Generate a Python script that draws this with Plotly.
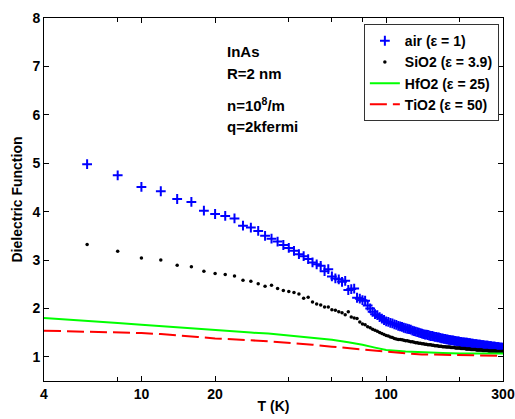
import math
import plotly.graph_objects as go

# ---- data ----
T_pts = list(range(6, 301, 2))

air_vals = [
    4.98, 4.75, 4.51, 4.42, 4.26, 4.20, 4.02, 3.95, 3.91, 3.86,
    3.71, 3.67, 3.60, 3.50, 3.44, 3.38, 3.31, 3.25, 3.19, 3.12,
    3.08, 3.02, 2.95, 2.91, 2.88, 2.77, 2.81, 2.66, 2.62, 2.60,
    2.55, 2.57, 2.38, 2.40, 2.41, 2.22, 2.20, 2.17, 2.16, 2.06,
    2.00, 1.93, 1.88, 1.86, 1.82, 1.79, 1.76, 1.73,
    1.72, 1.70, 1.69, 1.67, 1.66, 1.64, 1.63, 1.62, 1.60, 1.59,
    1.58, 1.57, 1.56, 1.54, 1.53, 1.52, 1.51, 1.50, 1.49, 1.48,
    1.47, 1.46, 1.46, 1.45, 1.44, 1.43, 1.43, 1.42, 1.41, 1.41,
    1.40, 1.40, 1.39, 1.38, 1.38, 1.37, 1.37, 1.36, 1.36, 1.35,
    1.35, 1.34, 1.34, 1.34, 1.33, 1.33, 1.32, 1.32, 1.32, 1.31,
    1.31, 1.30, 1.30, 1.30, 1.29, 1.29, 1.29, 1.28, 1.28, 1.28,
    1.27, 1.27, 1.27, 1.26, 1.26, 1.26, 1.26, 1.25, 1.25, 1.25,
    1.25, 1.24, 1.24, 1.24, 1.24, 1.23, 1.23, 1.23, 1.23, 1.23,
    1.22, 1.22, 1.22, 1.22, 1.21, 1.21, 1.21, 1.21, 1.21, 1.20,
    1.20, 1.20, 1.20, 1.20, 1.19, 1.19, 1.19, 1.19, 1.19, 1.18,
]

sio2_vals = [
    3.32, 3.18, 3.04, 3.00, 2.89, 2.86, 2.77, 2.72, 2.70, 2.67,
    2.58, 2.56, 2.51, 2.46, 2.48, 2.41, 2.37, 2.35, 2.33, 2.30,
    2.21, 2.23, 2.13, 2.09, 2.07, 2.03, 2.03, 1.97, 1.96, 1.93,
    1.91, 1.87, 1.93, 1.82, 1.80, 1.79, 1.72, 1.68, 1.66, 1.62,
    1.60, 1.57, 1.55, 1.53, 1.50, 1.48, 1.46, 1.44,
    1.43, 1.41, 1.40, 1.38, 1.37, 1.36, 1.36, 1.35, 1.34, 1.33,
    1.33, 1.32, 1.31, 1.31, 1.30, 1.29, 1.29, 1.28, 1.28, 1.27,
    1.27, 1.26, 1.26, 1.25, 1.25, 1.25, 1.24, 1.24, 1.23, 1.23,
    1.23, 1.22, 1.22, 1.22, 1.21, 1.21, 1.21, 1.20, 1.20, 1.20,
    1.20, 1.19, 1.19, 1.19, 1.19, 1.18, 1.18, 1.18, 1.18, 1.18,
    1.17, 1.17, 1.17, 1.17, 1.17, 1.16, 1.16, 1.16, 1.16, 1.16,
    1.15, 1.15, 1.15, 1.15, 1.15, 1.15, 1.14, 1.14, 1.14, 1.14,
    1.14, 1.14, 1.14, 1.13, 1.13, 1.13, 1.13, 1.13, 1.13, 1.13,
    1.12, 1.12, 1.12, 1.12, 1.12, 1.12, 1.12, 1.12, 1.12, 1.12,
    1.11, 1.11, 1.11, 1.11, 1.11, 1.11, 1.11, 1.11, 1.11, 1.11,
]

T_line = [4, 5, 6, 7, 8, 10, 12, 14, 17, 20, 24, 28, 33, 40, 45, 50,
          60, 70, 80, 90, 100, 120, 140, 170, 200, 250, 300]
hfo2_vals = [1.80, 1.77, 1.75, 1.72, 1.70, 1.66, 1.63, 1.60, 1.57, 1.54,
             1.52, 1.50, 1.48, 1.44, 1.42, 1.40, 1.35, 1.30, 1.25, 1.19,
             1.14, 1.11, 1.09, 1.08, 1.07, 1.07, 1.07]
tio2_vals = [1.54, 1.53, 1.51, 1.50, 1.50, 1.49, 1.47, 1.45, 1.41, 1.38,
             1.35, 1.34, 1.32, 1.29, 1.27, 1.25, 1.21, 1.18, 1.14, 1.12,
             1.10, 1.07, 1.05, 1.04, 1.04, 1.03, 1.02]

x_tickvals = [4, 10, 20, 100, 300]
x_ticktext = ["4", "10", "20", "100", "300"]
x_minor_vals = [8, 40, 60, 80, 200]
y_tickvals = [1, 2, 3, 4, 5, 6, 7, 8]

FONT = "Liberation Sans, Arial, sans-serif"

fig = go.Figure()
fig.add_trace(go.Scatter(
    x=T_pts, y=air_vals, mode="markers", name="air (ε = 1)",
    marker=dict(symbol="cross-thin", size=7, color="#0000ff",
                line=dict(color="#0000ff", width=2)),
))
fig.add_trace(go.Scatter(
    x=T_pts, y=sio2_vals, mode="markers", name="SiO2 (ε = 3.9)",
    marker=dict(symbol="circle", size=3.5, color="black"),
))
fig.add_trace(go.Scatter(
    x=T_line, y=hfo2_vals, mode="lines", name="HfO2 (ε = 25)",
    line=dict(color="#00ff00", width=2),
))
fig.add_trace(go.Scatter(
    x=T_line, y=tio2_vals, mode="lines", name="TiO2 (ε = 50)",
    line=dict(color="#ff0000", width=2, dash="17px,6px"),
))

notes = [("InAs", 0.909), ("R=2 nm", 0.848),
         ("n=10<sup>8</sup>/m", 0.763), ("q=2kfermi", 0.700)]
for txt, yy in notes:
    fig.add_annotation(text="<b>%s</b>" % txt, x=0.394, y=yy,
                       xref="paper", yref="paper", xanchor="left",
                       yanchor="middle", showarrow=False,
                       font=dict(family=FONT, size=15, color="black"))

fig.update_layout(
    width=515, height=419,
    margin=dict(l=44, r=12, t=18, b=38),
    paper_bgcolor="white", plot_bgcolor="white",
    font=dict(family=FONT, size=14, color="black"),
    showlegend=True,
    legend=dict(x=0.991, y=0.983, xanchor="right", yanchor="top",
                bgcolor="white", bordercolor="#333333", borderwidth=1,
                font=dict(family=FONT, size=14, color="black",
                          weight="bold"),
                tracegroupgap=0, itemwidth=30),
)
fig.update_xaxes(
    type="log", range=[math.log10(4), math.log10(300)],
    tickmode="array", tickvals=x_tickvals, ticktext=x_ticktext,
    ticks="inside", ticklen=5, tickcolor="black", tickwidth=1,
    minor=dict(tickmode="array", tickvals=x_minor_vals, ticks="inside",
               ticklen=4, tickcolor="black", showgrid=False),
    showline=True, linecolor="black", linewidth=1, mirror="ticks",
    showgrid=False, zeroline=False, automargin=False,
    tickfont=dict(family=FONT, size=14, color="black", weight="bold"),
    title=dict(text="<b>T (K)</b>", standoff=0,
               font=dict(family=FONT, size=14, color="black")),
)
fig.update_yaxes(
    range=[0.5, 8], tickmode="array", tickvals=y_tickvals,
    ticks="inside", ticklen=5, tickcolor="black", tickwidth=1,
    showline=True, linecolor="black", linewidth=1, mirror="ticks",
    showgrid=False, zeroline=False, automargin=False,
    tickfont=dict(family=FONT, size=14, color="black", weight="bold"),
    title=dict(text="<b>Dielectric Function</b>", standoff=6,
               font=dict(family=FONT, size=14, color="black")),
)

fig.write_html("out.html",
               config={"displayModeBar": False},
               post_script="document.body.style.margin='0';"
                           "document.body.style.overflow='hidden';")
